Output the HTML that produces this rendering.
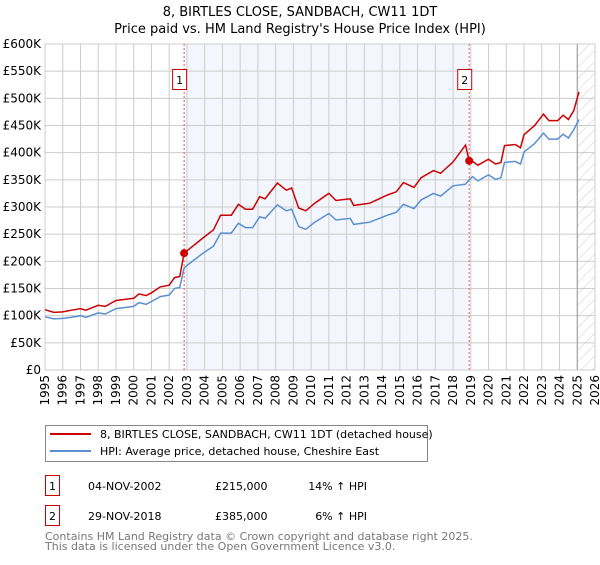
<!DOCTYPE html>
<html><head><meta charset="utf-8"><style>
body{margin:0;background:#fff;font-family:"Liberation Sans","DejaVu Sans",sans-serif;}
svg text{font-family:"DejaVu Sans","Liberation Sans",sans-serif;}
</style></head><body>
<svg id="c" width="600" height="560" xmlns="http://www.w3.org/2000/svg">
<defs><pattern id="hatch" width="8" height="8" patternUnits="userSpaceOnUse" patternTransform="rotate(45)"><line x1="0" y1="0" x2="0" y2="8" stroke="#ccc" stroke-width="1"/></pattern></defs>
<text x="300" y="16" text-anchor="middle" font-size="13">8, BIRTLES CLOSE, SANDBACH, CW11 1DT</text>
<text x="300" y="33" text-anchor="middle" font-size="13">Price paid vs. HM Land Registry's House Price Index (HPI)</text>
<g id="plot"></g>
<g>
<rect x="45.5" y="425.5" width="382" height="36" fill="#fff" stroke="#888"/>
<line x1="50" y1="434" x2="91" y2="434" stroke="#cc0000" stroke-width="2"/>
<text x="100" y="438" font-size="11">8, BIRTLES CLOSE, SANDBACH, CW11 1DT (detached house)</text>
<line x1="50" y1="451" x2="91" y2="451" stroke="#5b8fd0" stroke-width="2"/>
<text x="100" y="455" font-size="11">HPI: Average price, detached house, Cheshire East</text>
</g>
<g>
<rect x="45.5" y="475.5" width="14" height="20" fill="#fff" stroke="#cc0000"/>
<text x="52.5" y="490" text-anchor="middle" font-size="11">1</text>
<text x="88" y="490" font-size="11">04-NOV-2002</text>
<text x="215" y="490" font-size="11">£215,000</text>
<text x="367" y="490" text-anchor="end" font-size="11">14% ↑ HPI</text>
</g>
<g>
<rect x="45.5" y="505.5" width="14" height="20" fill="#fff" stroke="#cc0000"/>
<text x="52.5" y="520" text-anchor="middle" font-size="11">2</text>
<text x="88" y="520" font-size="11">29-NOV-2018</text>
<text x="215" y="520" font-size="11">£385,000</text>
<text x="367" y="520" text-anchor="end" font-size="11">6% ↑ HPI</text>
</g>
<text x="45" y="540" font-size="11" fill="#777">Contains HM Land Registry data © Crown copyright and database right 2025.</text>
<text x="45" y="550" font-size="11" fill="#777">This data is licensed under the Open Government Licence v3.0.</text>
</svg>
<script>
const hpiYears=[1995.0,1995.5,1996.0,1996.5,1997.0,1997.3,1998.0,1998.4,1999.0,2000.0,2000.3,2000.7,2001.0,2001.5,2002.0,2002.3,2002.6,2002.84,2003.1,2003.9,2004.5,2004.9,2005.5,2005.9,2006.3,2006.7,2007.1,2007.4,2008.1,2008.6,2008.9,2009.3,2009.7,2010.2,2011.0,2011.4,2012.2,2012.4,2013.3,2014.3,2014.8,2015.2,2015.8,2016.2,2016.9,2017.3,2018.0,2018.7,2018.91,2019.1,2019.4,2020.0,2020.4,2020.7,2020.9,2021.5,2021.8,2022.0,2022.6,2023.1,2023.4,2023.9,2024.2,2024.5,2024.8,2025.1];
const hpiValues=[98,94,95,97,100,97,105,103,113,117,124,121,126,135,138,150,152,188,195,215,228,252,252,270,262,262,282,279,304,293,296,264,259,272,288,276,279,268,272,285,290,305,297,313,325,320,339,342,350,356,348,359,351,354,382,384,379,401,417,436,425,425,434,427,442,461];
const priceValues=[111,106,107,110,113,110,119,117,128,132,140,137,142,153,156,170,172,215,222,243,258,285,285,305,296,296,319,315,344,331,335,298,293,307,325,312,315,303,307,322,328,345,336,354,367,362,383,414,385,384,377,388,379,382,413,415,409,433,450,471,459,459,469,461,477,512];
const sales=[{t:2002.84,v:215,label:"1"},{t:2018.91,v:385,label:"2"}];
const yTicks=[0,50,100,150,200,250,300,350,400,450,500,550,600];
const yTickLabels=["£0","£50K","£100K","£150K","£200K","£250K","£300K","£350K","£400K","£450K","£500K","£550K","£600K"];
const xTicks=[1995,1996,1997,1998,1999,2000,2001,2002,2003,2004,2005,2006,2007,2008,2009,2010,2011,2012,2013,2014,2015,2016,2017,2018,2019,2020,2021,2022,2023,2024,2025,2026];

const L=45,R=595,T=44,B=370,NS="http://www.w3.org/2000/svg";
const xs=t=>L+(t-1995)/31*(R-L);
const ys=v=>B-v/600*(B-T);
const g=document.getElementById('plot');
function mk(tag,attrs,parent){const e=document.createElementNS(NS,tag);for(const k in attrs)e.setAttribute(k,attrs[k]);(parent||g).appendChild(e);return e;}
let e;
e=mk('rect',{x:L,y:T,width:R-L,height:B-T,fill:'#fff'});


e=mk('rect',{x:xs(sales[0].t),y:T,width:xs(sales[1].t)-xs(sales[0].t),height:B-T,fill:'#eef3fc',opacity:0.7});


e=mk('rect',{x:xs(2025),y:T,width:R-xs(2025),height:B-T,fill:'url(#hatch)'});


yTicks.forEach((v,i)=>{
  e=mk('line',{x1:L,x2:R,y1:ys(v),y2:ys(v),stroke:'#ccc','stroke-width':1});
  
  
  e=mk('text',{x:L-4,y:ys(v)+4,'text-anchor':'end','font-size':12});
  e.textContent=yTickLabels[i];
  
  
});
xTicks.forEach(t=>{
  e=mk('line',{x1:xs(t),x2:xs(t),y1:T,y2:B,stroke:'#ccc','stroke-width':1});
  
  
  e=mk('text',{x:0,y:0,'text-anchor':'end','font-size':12,transform:`translate(${xs(t)+4},${B+5}) rotate(-90)`});
  e.textContent=t;
  
  
});
e=mk('line',{x1:xs(2025),x2:xs(2025),y1:T,y2:B,stroke:'#999','stroke-width':1});


e=mk('rect',{x:L,y:T,width:R-L,height:B-T,fill:'none',stroke:'#ccc'});


sales.forEach(s=>{
  e=mk('line',{x1:xs(s.t),x2:xs(s.t),y1:T,y2:B,stroke:'#e06060','stroke-width':1,'stroke-dasharray':'2,2'});
  
  
});
const pts=v=>hpiYears.map((t,i)=>xs(t).toFixed(1)+','+ys(v[i]).toFixed(1)).join(' ');
e=mk('polyline',{points:pts(hpiValues),fill:'none',stroke:'#5b8fd0','stroke-width':1.5});


e=mk('polyline',{points:pts(priceValues),fill:'none',stroke:'#cc0000','stroke-width':1.5});


sales.forEach(s=>{
  e=mk('circle',{cx:xs(s.t),cy:ys(s.v),r:4,fill:'#cc0000'});
  
  
  e=mk('rect',{x:xs(s.t)-11.5,y:69.5,width:14,height:20,fill:'#fff',stroke:'#cc0000'});
  
  
  e=mk('text',{x:xs(s.t)-4.5,y:84,'text-anchor':'middle','font-size':11});
  e.textContent=s.label;
  
  
});
</script>
</body></html>
